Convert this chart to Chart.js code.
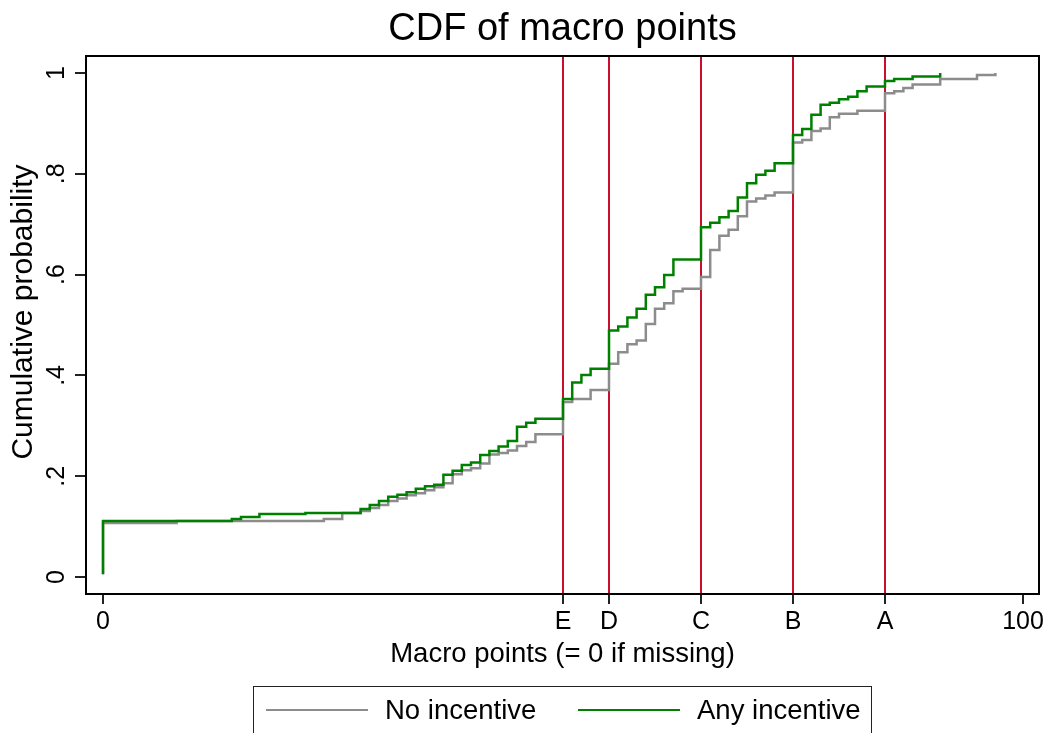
<!DOCTYPE html>
<html>
<head>
<meta charset="utf-8">
<title>CDF of macro points</title>
<script src="https://cdn.jsdelivr.net/npm/chart.js@4.4.1/dist/chart.umd.min.js"></script>
<style>
  html, body { margin: 0; padding: 0; background: #fff; }
  #wrap { position: relative; width: 1051px; height: 733px; overflow: hidden;
          font-family: 'Liberation Sans', Arial, sans-serif; color: #000; }
  #title { position: absolute; left: 86px; width: 953px; top: 6px; text-align: center;
           font-size: 38px; line-height: 43px; }
  #legend { position: absolute; left: 253px; top: 686px; width: 619px; height: 70px;
            border: 1.5px solid #222; box-sizing: border-box; }
  .sw { position: absolute; top: 22px; width: 102px; height: 0; border-top: 2.5px solid; }
  .lt { position: absolute; top: 8px; font-size: 27.5px; line-height: 30px; white-space: nowrap; }
</style>
</head>
<body>
<div id="wrap">
  <canvas id="cdf" width="1051" height="733"></canvas>
  <div id="title">CDF of macro points</div>
  <div id="legend"></div>
</div>
<script>
// CDF steps (x = macro points, y = cumulative probability)
const noX = [0, 0, 8, 24, 26, 28, 29, 30, 31, 32, 33, 34, 35, 36, 37, 38, 39, 40, 41, 42, 43,
  44, 45, 46, 47, 50, 51, 53, 55, 56, 57, 58, 59, 60, 61, 62, 63, 65, 66, 67, 68, 69, 70, 71,
  72, 73, 75, 76, 77, 78, 79, 80, 82, 85, 86, 87, 88, 91, 95, 97];
const noY = [0.005, 0.107, 0.111, 0.115, 0.127, 0.131, 0.137, 0.143, 0.151, 0.156, 0.162,
  0.166, 0.172, 0.178, 0.186, 0.204, 0.212, 0.216, 0.225, 0.243, 0.246, 0.251, 0.260, 0.268,
  0.283, 0.347, 0.353, 0.371, 0.423, 0.446, 0.462, 0.469, 0.502, 0.532, 0.543, 0.567, 0.572,
  0.595, 0.649, 0.677, 0.689, 0.716, 0.745, 0.751, 0.757, 0.763, 0.862, 0.867, 0.885, 0.890,
  0.912, 0.919, 0.925, 0.960, 0.964, 0.970, 0.977, 0.988, 0.996, 1.0];

const anyX = [0, 0, 14, 15, 17, 22, 28, 29, 30, 31, 32, 33, 34, 35, 36, 37, 38, 39, 40, 41,
  42, 43, 44, 45, 46, 47, 50, 51, 52, 53, 55, 56, 57, 58, 59, 60, 61, 62, 65, 66, 67, 68, 69,
  70, 71, 72, 73, 75, 76, 77, 78, 79, 80, 81, 82, 83, 85, 86, 88, 91];
const anyY = [0.006, 0.111, 0.115, 0.119, 0.125, 0.127, 0.135, 0.143, 0.151, 0.159, 0.163,
  0.168, 0.175, 0.180, 0.183, 0.203, 0.211, 0.222, 0.227, 0.242, 0.250, 0.259, 0.270, 0.298,
  0.306, 0.314, 0.353, 0.386, 0.401, 0.413, 0.489, 0.497, 0.515, 0.532, 0.560, 0.575, 0.599,
  0.630, 0.694, 0.703, 0.714, 0.726, 0.753, 0.781, 0.798, 0.806, 0.821, 0.877, 0.889, 0.917,
  0.937, 0.941, 0.948, 0.953, 0.964, 0.973, 0.984, 0.988, 0.993, 1.0];

const gradeCuts = [50, 55, 65, 75, 85];
const gradeLabels = ['E', 'D', 'C', 'B', 'A'];
const xTickValues = [0, ...gradeCuts, 100];
const xTickLabels = ['0', ...gradeLabels, '100'];
const yTickValues = [0, 0.2, 0.4, 0.6, 0.8, 1];
const yTickLabels = ['0', '.2', '.4', '.6', '.8', '1'];

const seriesNames = ['No incentive', 'Any incentive'];
const seriesColors = ['#8c8c8c', '#008000'];
const yTitle = 'Cumulative probability';

const FONT = "'Liberation Sans', Arial, sans-serif";

function toPoints(xs, ys) {
  return xs.map((x, i) => ({ x: x, y: ys[i] }));
}

// vertical grade cut lines, drawn behind the curves
const gradeLines = {
  id: 'gradeLines',
  beforeDatasetsDraw(chart) {
    const { ctx, chartArea, scales } = chart;
    ctx.save();
    ctx.strokeStyle = '#c8102e';
    ctx.lineWidth = 2;
    gradeCuts.forEach((c) => {
      const px = scales.x.getPixelForValue(c);
      ctx.beginPath();
      ctx.moveTo(px, chartArea.top);
      ctx.lineTo(px, chartArea.bottom);
      ctx.stroke();
    });
    ctx.restore();
  }
};

// plot frame, rotated y tick labels and y title (Stata style)
const frameAndLabels = {
  id: 'frameAndLabels',
  afterDraw(chart) {
    const { ctx, chartArea, scales } = chart;
    ctx.save();
    ctx.strokeStyle = '#000';
    ctx.lineWidth = 2;
    ctx.strokeRect(chartArea.left, chartArea.top,
      chartArea.right - chartArea.left, chartArea.bottom - chartArea.top);

    ctx.fillStyle = '#000';
    ctx.font = '25px ' + FONT;
    ctx.textAlign = 'center';
    ctx.textBaseline = 'middle';
    yTickValues.forEach((v, i) => {
      const py = scales.y.getPixelForValue(v);
      ctx.save();
      ctx.translate(57, py);
      ctx.rotate(-Math.PI / 2);
      ctx.fillText(yTickLabels[i], 0, 0);
      ctx.restore();
    });

    ctx.font = '30px ' + FONT;
    ctx.translate(24, 312);
    ctx.rotate(-Math.PI / 2);
    ctx.fillText(yTitle, 0, 0);
    ctx.restore();
  }
};

const ctx = document.getElementById('cdf').getContext('2d');

new Chart(ctx, {
  type: 'line',
  data: {
    datasets: [
      {
        label: seriesNames[1],
        data: toPoints(anyX, anyY),
        borderColor: seriesColors[1],
        borderWidth: 2.5,
        stepped: 'before',
        pointRadius: 0,
        fill: false
      },
      {
        label: seriesNames[0],
        data: toPoints(noX, noY),
        borderColor: seriesColors[0],
        borderWidth: 2.5,
        stepped: 'before',
        pointRadius: 0,
        fill: false
      }
    ]
  },
  options: {
    responsive: false,
    animation: false,
    layout: { padding: { top: 56, right: 12, left: 0, bottom: 59 } },
    plugins: {
      legend: { display: false },
      title: { display: false },
      tooltip: { enabled: false }
    },
    scales: {
      x: {
        type: 'linear',
        min: -1.85,
        max: 101.74,
        afterBuildTicks: (s) => { s.ticks = xTickValues.map((v) => ({ value: v })); },
        afterFit: (s) => { s.height = 80; },
        ticks: {
          autoSkip: false,
          maxRotation: 0,
          padding: 3,
          color: '#000',
          font: { family: FONT, size: 25 },
          callback: (v) => xTickLabels[xTickValues.indexOf(v)]
        },
        grid: { drawOnChartArea: false, drawTicks: true, tickLength: 10, color: '#222', lineWidth: 2 },
        border: { display: false },
        title: {
          display: true,
          text: 'Macro points (= 0 if missing)',
          color: '#000',
          font: { family: FONT, size: 27.5 },
          padding: { top: 0, bottom: 3 }
        }
      },
      y: {
        type: 'linear',
        min: -0.0337,
        max: 1.0337,
        afterBuildTicks: (s) => { s.ticks = yTickValues.map((v) => ({ value: v })); },
        afterFit: (s) => { s.width = 86; },
        ticks: { display: false },
        grid: { drawOnChartArea: false, drawTicks: true, tickLength: 11, color: '#222', lineWidth: 2 },
        border: { display: false },
        title: { display: false, text: yTitle }
      }
    }
  },
  plugins: [gradeLines, frameAndLabels]
});

// legend box below the plot
const legend = document.getElementById('legend');
const swLeft = [12, 324];
const txtLeft = [131, 443];
seriesNames.forEach((name, i) => {
  const sw = document.createElement('div');
  sw.className = 'sw';
  sw.style.left = swLeft[i] + 'px';
  sw.style.borderTopColor = seriesColors[i];
  legend.appendChild(sw);
  const t = document.createElement('div');
  t.className = 'lt';
  t.style.left = txtLeft[i] + 'px';
  t.textContent = name;
  legend.appendChild(t);
});
</script>
</body>
</html>
